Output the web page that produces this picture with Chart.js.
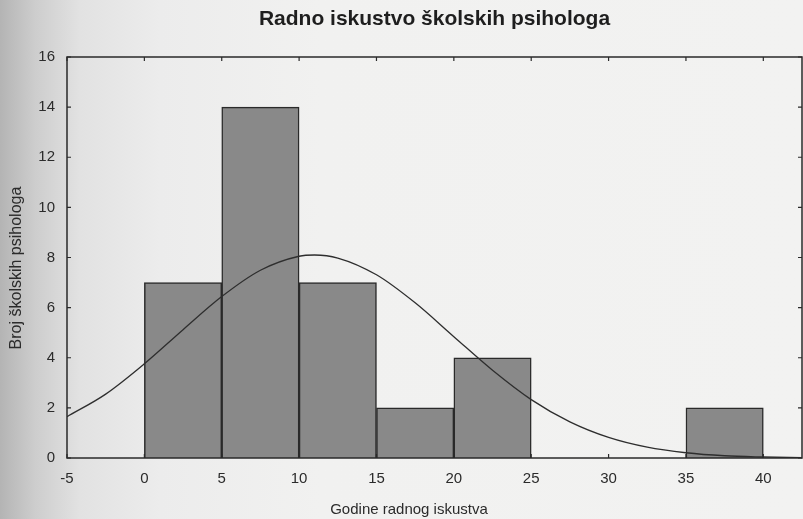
<!DOCTYPE html>
<html>
<head>
<meta charset="utf-8">
<script src="https://cdn.jsdelivr.net/npm/chart.js@4.4.1/dist/chart.umd.min.js"></script>
<style>
html,body{margin:0;padding:0;}
body{
  width:803px;height:519px;overflow:hidden;
  background:linear-gradient(to right,#b4b4b4 0px,#cdcdcd 35px,#e2e2e2 80px,#ececec 160px,#f1f1f0 320px,#f2f2f1 100%);
}
#wrap{position:relative;width:803px;height:519px;}
</style>
</head>
<body>
<div id="wrap"><canvas id="grafik" width="803" height="519"></canvas></div>
<script>
// histogram razreda (sredina razreda, broj psihologa)
var razredi = ["0-5","5-10","10-15","15-20","20-25","25-30","30-35","35-40"];
var sredineRazreda = [2.5,7.5,12.5,17.5,22.5,27.5,32.5,37.5];
var brojPsihologa = [7,14,7,2,4,0,0,2];

// ocitane tocke normalne krivulje
var krivuljaX = [-5,-2.5,0,2.5,5,7.5,10,11,12.5,15,17.5,20,22.5,25,27.5,30,32.5,35,37.5,40,42.5];
var krivuljaY = [1.65,2.55,3.76,5.12,6.44,7.49,8.05,8.1,7.98,7.31,6.19,4.84,3.5,2.33,1.44,0.82,0.43,0.21,0.09,0.04,0.01];

var naslov = "Radno iskustvo školskih psihologa";
var naslovX = "Godine radnog iskustva";
var naslovY = "Broj školskih psihologa";

var font = "'Liberation Sans', Arial, sans-serif";
var tekstBoja = "#2b2b2b";

function tockeHistograma(){
    var res=[];
    for(var i=0;i<sredineRazreda.length;i++){
        res.push({x:sredineRazreda[i], y:brojPsihologa[i]});
    }
    return res;
}
function tockeKrivulje(){
    var res=[];
    for(var i=0;i<krivuljaX.length;i++){
        res.push({x:krivuljaX[i], y:krivuljaY[i]});
    }
    return res;
}

// okvir, kratke crtice prema unutra i naslovi osi
var okvir = {
    id:"okvir",
    afterDatasetsDraw:function(chart){
        var ctx=chart.ctx, a=chart.chartArea;
        var sx=chart.scales.x, sy=chart.scales.y;
        ctx.save();
        ctx.strokeStyle="#2a2a2a";
        ctx.lineWidth=1.5;
        ctx.strokeRect(a.left,a.top,a.right-a.left,a.bottom-a.top);
        ctx.lineWidth=1.2;
        ctx.beginPath();
        sx.ticks.forEach(function(t){
            var px=sx.getPixelForValue(t.value);
            ctx.moveTo(px,a.bottom); ctx.lineTo(px,a.bottom-4);
            ctx.moveTo(px,a.top); ctx.lineTo(px,a.top+4);
        });
        sy.ticks.forEach(function(t){
            var py=sy.getPixelForValue(t.value);
            ctx.moveTo(a.left,py); ctx.lineTo(a.left+4,py);
            ctx.moveTo(a.right,py); ctx.lineTo(a.right-4,py);
        });
        ctx.stroke();

        ctx.fillStyle=tekstBoja;
        ctx.textAlign="center";
        ctx.textBaseline="middle";
        ctx.font="15px "+font;
        ctx.fillText(naslovX,409,510);
        ctx.font="16px "+font;
        ctx.translate(17,268);
        ctx.rotate(-Math.PI/2);
        ctx.fillText(naslovY,0,0);
        ctx.restore();
    }
};

var ctx = document.getElementById("grafik").getContext("2d");
var chart = new Chart(ctx,{
    type:"bar",
    data:{
        labels:razredi,
        datasets:[
            {
                type:"line",
                label:"Normalna raspodjela",
                data:tockeKrivulje(),
                borderColor:"#2e2e2e",
                borderWidth:1.3,
                pointRadius:0,
                cubicInterpolationMode:"monotone",
                fill:false,
                order:0
            },
            {
                type:"bar",
                label:"Broj psihologa",
                data:tockeHistograma(),
                backgroundColor:"#898989",
                borderColor:"#2a2a2a",
                borderWidth:1.5,
                barPercentage:1,
                categoryPercentage:1,
                grouped:false,
                order:1
            }
        ]
    },
    plugins:[okvir],
    options:{
        responsive:false,
        animation:false,
        layout:{padding:{left:0,right:1,top:0,bottom:0}},
        plugins:{
            legend:{display:false},
            tooltip:{enabled:false},
            title:{
                display:true,
                fullSize:false,
                text:naslov,
                color:"#1e1e1e",
                font:{family:font,size:21,weight:"bold"},
                padding:{top:7,bottom:24.8}
            }
        },
        scales:{
            x:{
                type:"linear",
                min:-5,
                max:42.5,
                offset:false,
                grid:{display:false,drawTicks:false},
                border:{display:false},
                ticks:{
                    stepSize:5,
                    includeBounds:false,
                    padding:12,
                    color:tekstBoja,
                    font:{family:font,size:15},
                    maxRotation:0
                },
                afterFit:function(s){ s.height=61; }
            },
            y:{
                min:0,
                max:16,
                grid:{display:false,drawTicks:false},
                border:{display:false},
                ticks:{
                    stepSize:2,
                    padding:12,
                    color:tekstBoja,
                    font:{family:font,size:15}
                },
                afterFit:function(s){ s.width=67; }
            }
        }
    }
});
</script>
</body>
</html>
